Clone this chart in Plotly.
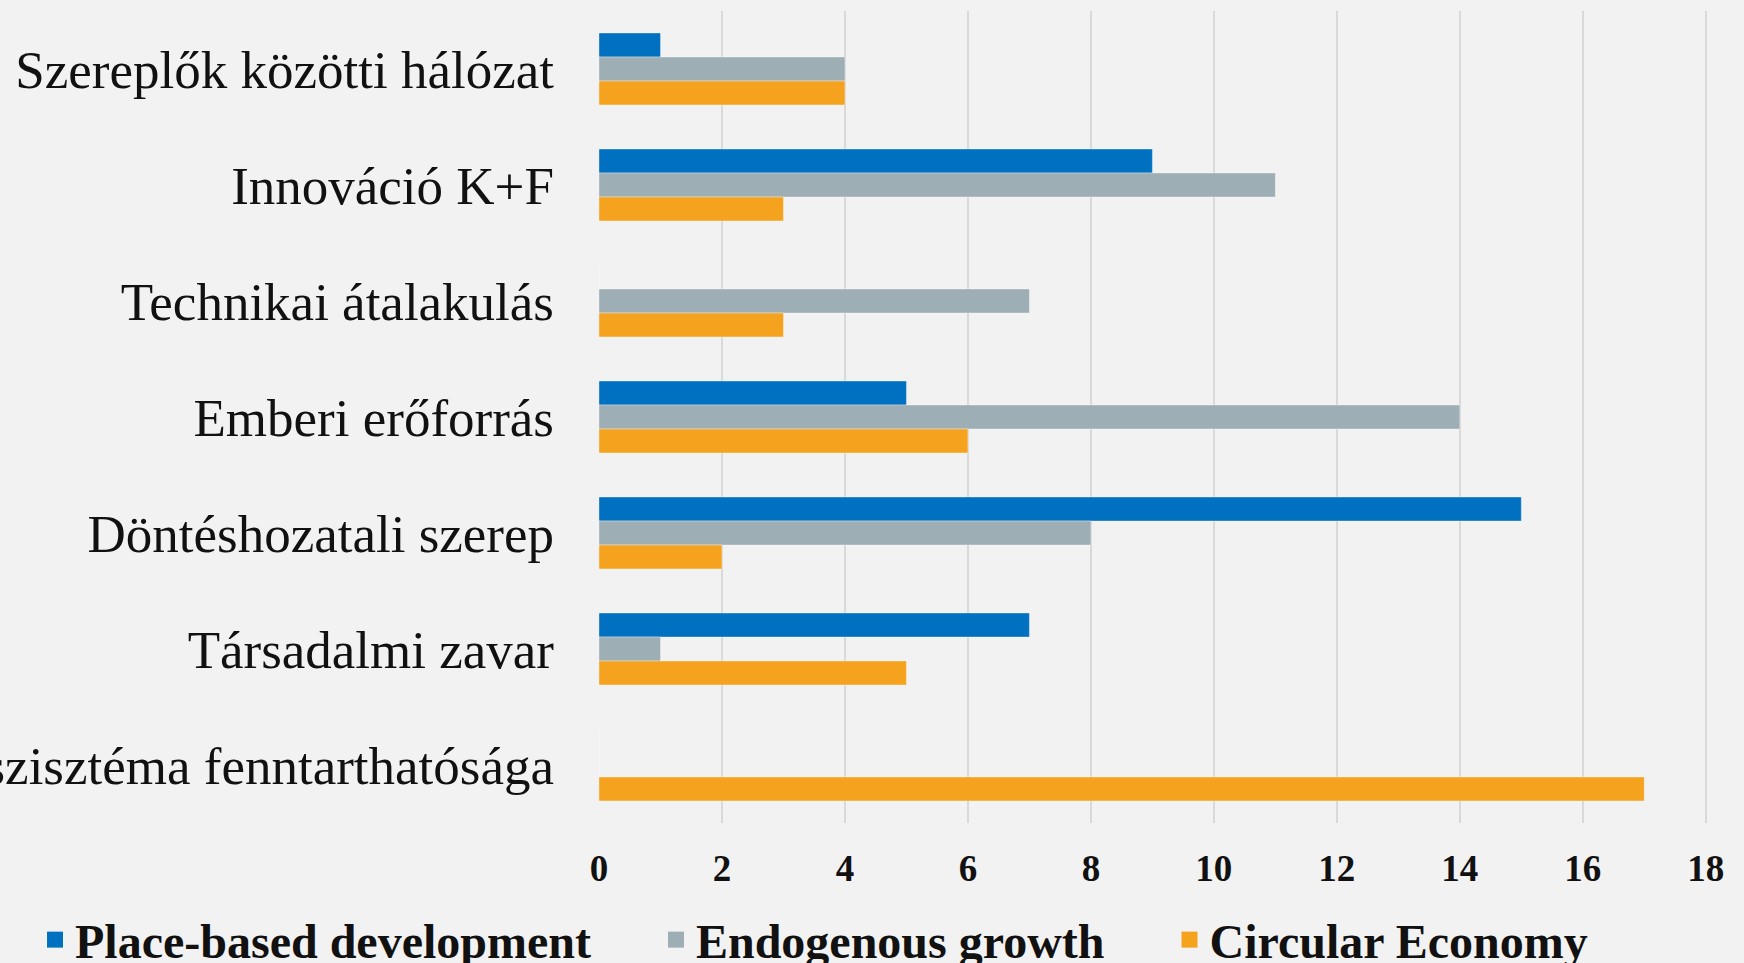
import plotly.graph_objects as go

categories = [
    "Szereplők közötti hálózat",
    "Innováció K+F",
    "Technikai átalakulás",
    "Emberi erőforrás",
    "Döntéshozatali szerep",
    "Társadalmi zavar",
    "Ökoszisztéma fenntarthatósága",
]
place_based = [1, 9, 0, 5, 15, 7, 0]
endogenous = [4, 11, 7, 14, 8, 1, 0]
circular = [4, 3, 3, 6, 2, 5, 17]
x_ticks = [0, 2, 4, 6, 8, 10, 12, 14, 16, 18]

series = [
    ("Place-based development", place_based, "#0070C0"),
    ("Endogenous growth", endogenous, "#9DAEB4"),
    ("Circular Economy", circular, "#F5A31F"),
]
legend_pad = "\u00a0" * 5

fig = go.Figure()
for name, vals, color in series:
    fig.add_trace(go.Bar(
        y=categories, x=vals, name=name, orientation="h", showlegend=False,
        legendgroup=name,
        marker=dict(color=color, line=dict(color="rgba(255,255,255,0.35)", width=1)),
    ))
# legend entries with larger square swatches
for i, (name, vals, color) in enumerate(series):
    label = name + (legend_pad if i < len(series) - 1 else "")
    fig.add_trace(go.Scatter(
        x=[None], y=[None], mode="markers", name=label, legendgroup=name,
        marker=dict(symbol="square", size=16, color=color),
        hoverinfo="skip",
    ))

fig.update_layout(
    width=1744, height=963,
    paper_bgcolor="#F2F2F2", plot_bgcolor="#F2F2F2",
    barmode="group", bargap=0.38, bargroupgap=0,
    margin=dict(l=599, r=37, t=11, b=140, autoexpand=False),
    font=dict(family="Liberation Serif", color="#111111"),
    showlegend=True,
    legend=dict(
        orientation="h", xref="paper", x=-0.509, xanchor="left",
        yref="paper", y=-0.144, yanchor="middle",
        font=dict(size=48, family="Liberation Serif", weight="bold", color="#111111"),
        bgcolor="rgba(0,0,0,0)", itemwidth=30, tracegroupgap=0,
        itemsizing="trace",
    ),
    xaxis=dict(
        range=[0, 18.02], tickvals=x_ticks, showgrid=True, gridcolor="#D9D9D9", gridwidth=1.5,
        zeroline=False, showline=False, ticks="", automargin=False,
        tickfont=dict(size=37, family="Liberation Serif", weight="bold", color="#111111"),
        ticklabelstandoff=20,
    ),
    yaxis=dict(
        autorange="reversed", showgrid=False, zeroline=False, showline=False,
        ticks="", automargin=False,
        tickfont=dict(size=53, family="Liberation Serif", color="#111111"),
        ticklabelstandoff=44,
    ),
)

fig.write_html("out.html", config={"displayModeBar": False},
               post_script="document.body.style.margin='0';")
